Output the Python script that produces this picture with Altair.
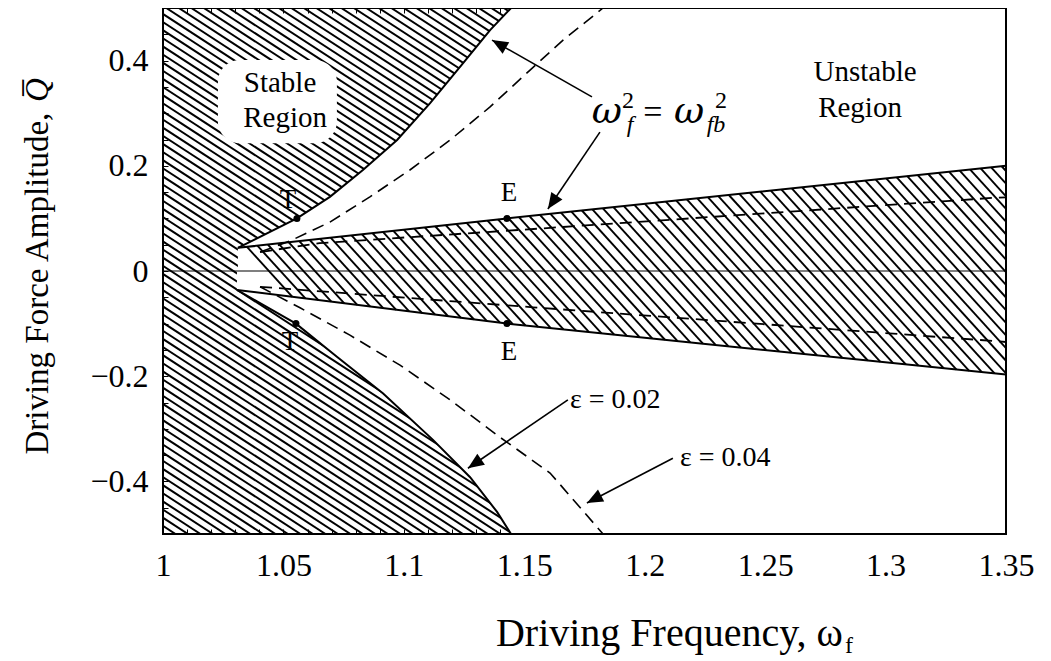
import math
import altair as alt
import pandas as pd

# ---------------- plot geometry ----------------
W, H = 843, 526
XMIN, XMAX = 1.0, 1.35
YMIN, YMAX = -0.5, 0.5
FONT = "Liberation Serif, DejaVu Serif, serif"
GREEK_FONT = "DejaVu Serif, Liberation Serif, serif"

# ---------------- curves ----------------
upper_stable_x = [1.0311, 1.0556, 1.0693, 1.0830, 1.0972, 1.1109, 1.1246, 1.1358, 1.1445]
upper_stable_y = [0.044, 0.100, 0.141, 0.192, 0.249, 0.319, 0.395, 0.458, 0.500]
lower_stable_x = [1.0307, 1.0552, 1.0722, 1.0914, 1.1121, 1.1275, 1.1387, 1.1445]
lower_stable_y = [-0.036, -0.100, -0.163, -0.233, -0.321, -0.392, -0.458, -0.500]

upper_E_x = [1.0311, 1.1428, 1.35]
upper_E_y = [0.044, 0.100, 0.200]
lower_E_x = [1.0307, 1.1428, 1.35]
lower_E_y = [-0.036, -0.100, -0.197]

upper_dash_curve_x = [1.0403, 1.0527, 1.0693, 1.0859, 1.1025, 1.1192, 1.1358, 1.1524, 1.1661, 1.1827]
upper_dash_curve_y = [0.036, 0.057, 0.093, 0.141, 0.192, 0.249, 0.312, 0.382, 0.439, 0.500]
lower_dash_curve_x = [1.0403, 1.0569, 1.0776, 1.0984, 1.1192, 1.1399, 1.1607, 1.1827]
lower_dash_curve_y = [-0.030, -0.070, -0.122, -0.179, -0.245, -0.316, -0.384, -0.500]
upper_dash_band_x = [1.0403, 1.065, 1.1607, 1.3446, 1.35]
upper_dash_band_y = [0.036, 0.053, 0.082, 0.139, 0.140]
lower_dash_band_x = [1.0403, 1.1536, 1.3446, 1.35]
lower_dash_band_y = [-0.030, -0.069, -0.133, -0.135]

dot_x = [1.0556, 1.1428, 1.0552, 1.1428]
dot_y = [0.100, 0.100, -0.100, -0.100]
dot_label = ["T", "E", "T", "E"]
dot_label_x = [1.0519, 1.1437, 1.0527, 1.1437]
dot_label_y = [0.135, 0.148, -0.135, -0.154]

# annotations
region_text = ["Stable", "Region", "Unstable", "Region"]
region_x = [1.0486, 1.0507, 1.2915, 1.2894]
region_y = [0.357, 0.291, 0.378, 0.310]
blob_x = [1.0228]; blob_x2 = [1.0722]; blob_y = [0.243]; blob_y2 = [0.401]

eps_text = ["\u03b5 = 0.02", "\u03b5 = 0.04"]
eps_x = [1.1690, 1.2146]
eps_y = [-0.245, -0.356]

arrow_tail_x = [1.1781, 1.1814, 1.1681, 1.2117]
arrow_tail_y = [0.331, 0.264, -0.245, -0.356]
arrow_tip_x = [1.1366, 1.1598, 1.1266, 1.1760]
arrow_tip_y = [0.439, 0.118, -0.375, -0.441]

omega_text = ["\u03c9", "\u03c9"]
omega_x = [1.1843, 1.2184]
omega_y = [0.281, 0.281]
sup_text = ["2", "2"]
sup_x = [1.1931, 1.2317]
sup_y = [0.310, 0.310]
sub_text = ["f", "fb"]
sub_x = [1.1939, 1.2296]
sub_y = [0.264, 0.264]
eq_x = [1.2034]; eq_y = [0.281]

x_ticks = [round(1.0 + 0.01 * i, 2) for i in range(36)]
y_ticks = [round(-0.5 + 0.05 * i, 2) for i in range(21)]

xtitle_x = [1.2823]; xtitle_y = [-0.713]
xsub_x = [1.2832]; xsub_y = [-0.727]
ytitle_x = [0.9481]; ytitle_y = [-0.024]
yq_x = [0.9481]; yq_y = [0.344]

# ---------------- helpers ----------------
def px2x(p):
    return XMIN + p / W * (XMAX - XMIN)

def py2y(p):
    return YMAX - p / H * (YMAX - YMIN)

def x2px(x):
    return (x - XMIN) / (XMAX - XMIN) * W

def y2py(y):
    return (YMAX - y) / (YMAX - YMIN) * H

XS = alt.Scale(domain=[XMIN, XMAX], nice=False, zero=False)
YS = alt.Scale(domain=[YMIN, YMAX], nice=False, zero=False)

def X(field, axis=None):
    return alt.X(field, type="quantitative", scale=XS, axis=axis)

def Y(field, axis=None):
    return alt.Y(field, type="quantitative", scale=YS, axis=axis)

# ---------------- hatch A (stable regions) over whole plot ----------------
sA, stepA = 0.65, 12.5
rowsA = []
u = -H / sA
while u < W:
    rowsA.append(dict(x=px2x(u), y=py2y(0), x2=px2x(u + H / sA), y2=py2y(H)))
    u += stepA
hatchA_df = pd.DataFrame(rowsA)

x_axis_bottom = alt.Axis(values=x_ticks, orient="bottom", offset=-5, tickSize=5, domain=False,
                         grid=False, title=None, labelFontSize=32, labelFont=FONT,
                         labelColor="black", tickColor="black", labelPadding=16,
                         labelOverlap=False, labelFlush=False,
                         labelExpr="abs(datum.value*20 - round(datum.value*20)) < 0.001 ? format(datum.value, '~g') : ''")
y_axis_left = alt.Axis(values=y_ticks, orient="left", offset=-5, tickSize=5, domain=False,
                       grid=False, title=None, labelFontSize=32, labelFont=FONT,
                       labelColor="black", tickColor="black", labelPadding=15,
                       labelOverlap=False, labelFlush=False,
                       labelExpr="abs(datum.value*5 - round(datum.value*5)) < 0.001 && abs(datum.value) < 0.45 ? format(datum.value, '~g') : ''")
x_axis_top = alt.Axis(values=x_ticks, orient="top", offset=-5, tickSize=5, domain=False,
                      grid=False, title=None, labels=False, tickColor="black")
y_axis_right = alt.Axis(values=y_ticks, orient="right", offset=-5, tickSize=5, domain=False,
                        grid=False, title=None, labels=False, tickColor="black")

hatchA = alt.Chart(hatchA_df).mark_rule(clip=True, color="black", strokeWidth=2.0).encode(
    x=X("x", x_axis_bottom), y=Y("y", y_axis_left), x2="x2", y2="y2")

# ---------------- white overlay right of the stable curves ----------------
up_area = pd.DataFrame({"x": upper_stable_x + [XMAX], "y": upper_stable_y + [YMAX], "y0": 0.0})
lo_area = pd.DataFrame({"x": lower_stable_x + [XMAX], "y": lower_stable_y + [YMIN], "y0": 0.0})
white_up = alt.Chart(up_area).mark_area(color="white", opacity=1, interpolate="linear").encode(
    x=X("x"), y=Y("y"), y2="y0")
white_lo = alt.Chart(lo_area).mark_area(color="white", opacity=1, interpolate="linear").encode(
    x=X("x"), y=Y("y"), y2="y0")

# ---------------- hatch B inside the band between the E lines ----------------
sB, stepB = 1.1, 11.5

def intersect(poly_x, poly_y, u):
    pts = [(x2px(a), y2py(b)) for a, b in zip(poly_x, poly_y)]
    for i in range(len(pts) - 1):
        (ax, ay), (bx, by) = pts[i], pts[i + 1]
        den = (by - ay) - sB * (bx - ax)
        if den == 0:
            continue
        t = (sB * (ax - u) - ay) / den
        last = i == len(pts) - 2
        if 0 <= t <= 1 or (last and t > 1):
            return ax + t * (bx - ax)
    return None

cusp_px = max(x2px(upper_E_x[0]), x2px(lower_E_x[0]))
rowsB = []
u = -H / sB
while u < W + 10:
    xt = intersect(upper_E_x, upper_E_y, u)
    xb = intersect(lower_E_x, lower_E_y, u)
    if xt is not None and xb is not None and xb > cusp_px:
        xs = max(xt, cusp_px)
        rowsB.append(dict(x=px2x(xs), y=py2y(sB * (xs - u)), x2=px2x(xb), y2=py2y(sB * (xb - u))))
    u += stepB
hatchB_df = pd.DataFrame(rowsB)
hatchB = alt.Chart(hatchB_df).mark_rule(clip=True, color="black", strokeWidth=1.9).encode(
    x=X("x"), y=Y("y"), x2="x2", y2="y2")

# ---------------- white blob behind "Stable Region" ----------------
blob = alt.Chart(pd.DataFrame({"x": blob_x, "x2": blob_x2, "y": blob_y, "y2": blob_y2})).mark_rect(
    color="white", cornerRadius=22).encode(x=X("x"), x2="x2", y=Y("y"), y2="y2")

# ---------------- lines ----------------
zero_line = alt.Chart(pd.DataFrame({"y": [0.0]})).mark_rule(color="black", strokeWidth=1.2).encode(y=Y("y"))

def line(xs, ys, dash=None, width=2.0, axes=(None, None)):
    df = pd.DataFrame({"x": xs, "y": ys, "o": list(range(len(xs)))})
    kw = dict(color="black", strokeWidth=width, clip=True)
    if dash:
        kw["strokeDash"] = dash
    return alt.Chart(df).mark_line(**kw).encode(x=X("x", axes[0]), y=Y("y", axes[1]), order="o:Q")

solid = [
    line(upper_stable_x, upper_stable_y, axes=(x_axis_top, y_axis_right)),
    line(lower_stable_x, lower_stable_y),
    line(upper_E_x, upper_E_y),
    line(lower_E_x, lower_E_y),
]
dash = [12, 7]
dashed = [
    line(upper_dash_curve_x, upper_dash_curve_y, dash, 1.6),
    line(lower_dash_curve_x, lower_dash_curve_y, dash, 1.6),
    line(upper_dash_band_x, upper_dash_band_y, dash, 1.8),
    line(lower_dash_band_x, lower_dash_band_y, dash, 1.8),
]

dots = alt.Chart(pd.DataFrame({"x": dot_x, "y": dot_y})).mark_point(
    filled=True, color="black", size=49, opacity=1, shape="circle").encode(x=X("x"), y=Y("y"))

def texts(xs, ys, labels, size, style="normal", align="center", baseline="middle", angle=0, font=FONT):
    df = pd.DataFrame({"x": xs, "y": ys, "t": labels})
    return alt.Chart(df).mark_text(font=font, fontSize=size, fontStyle=style, align=align,
                                   baseline=baseline, color="black", angle=angle).encode(
        x=X("x"), y=Y("y"), text="t:N")

# ---------------- arrows ----------------
arr_rows = []
for tx, ty, hx, hy in zip(arrow_tail_x, arrow_tail_y, arrow_tip_x, arrow_tip_y):
    dxp = x2px(hx) - x2px(tx)
    dyp = y2py(hy) - y2py(ty)
    ang = math.degrees(math.atan2(dxp, -dyp)) % 360
    arr_rows.append(dict(x=tx, y=ty, x2=hx, y2=hy, ang=ang))
arr_df = pd.DataFrame(arr_rows)
shafts = alt.Chart(arr_df).mark_rule(color="black", strokeWidth=1.6).encode(
    x=X("x"), y=Y("y"), x2="x2", y2="y2")
heads = alt.Chart(arr_df).mark_point(shape="M0,0 L-0.42,1 L0.42,1 Z", filled=True, color="black",
                                     opacity=1, size=1024).encode(
    x=X("x2"), y=Y("y2"), angle=alt.Angle("ang:Q", scale=None))

# ---------------- text ----------------
t_regions = texts(region_x, region_y, region_text, 29)
t_dots = texts(dot_label_x, dot_label_y, dot_label, 27)
t_eps = texts(eps_x, eps_y, eps_text, 28, align="left")
t_omega = texts(omega_x, omega_y, omega_text, 37, style="italic", baseline="alphabetic", font=GREEK_FONT)
t_sup = texts(sup_x, sup_y, sup_text, 24, baseline="alphabetic")
t_sub = texts(sub_x, sub_y, sub_text, 24, style="italic", baseline="alphabetic")
t_eq = texts(eq_x, eq_y, ["="], 34, baseline="alphabetic")
t_xtitle = texts(xtitle_x, xtitle_y, ["Driving Frequency, \u03c9"], 40, align="right", baseline="alphabetic")
t_xsub = texts(xsub_x, xsub_y, ["f"], 24, align="left", baseline="alphabetic")
t_ytitle = texts(ytitle_x, ytitle_y, ["Driving Force Amplitude,"], 33, angle=270)
t_yq = texts(yq_x, yq_y, ["Q\u0305"], 33, style="italic", angle=270)

frame = alt.Chart(pd.DataFrame({"x": [XMIN], "x2": [XMAX], "y": [YMIN], "y2": [YMAX]})).mark_rect(
    filled=False, stroke="black", strokeWidth=2).encode(x=X("x"), x2="x2", y=Y("y"), y2="y2")

chart = alt.layer(
    hatchA, white_up, white_lo, hatchB, blob, zero_line,
    *solid, *dashed, dots, shafts, heads,
    t_regions, t_dots, t_eps, t_omega, t_sup, t_sub, t_eq,
    t_xtitle, t_xsub, t_ytitle, t_yq, frame,
).resolve_axis(x="independent", y="independent").properties(
    width=W, height=H,
    autosize=alt.AutoSizeParams(type="none"),
    padding={"left": 155, "top": 0, "right": 37, "bottom": 125},
).configure_view(stroke="black", strokeWidth=2).configure(font=FONT)

chart.save("out.html", embed_options={"renderer": "svg", "actions": False})
